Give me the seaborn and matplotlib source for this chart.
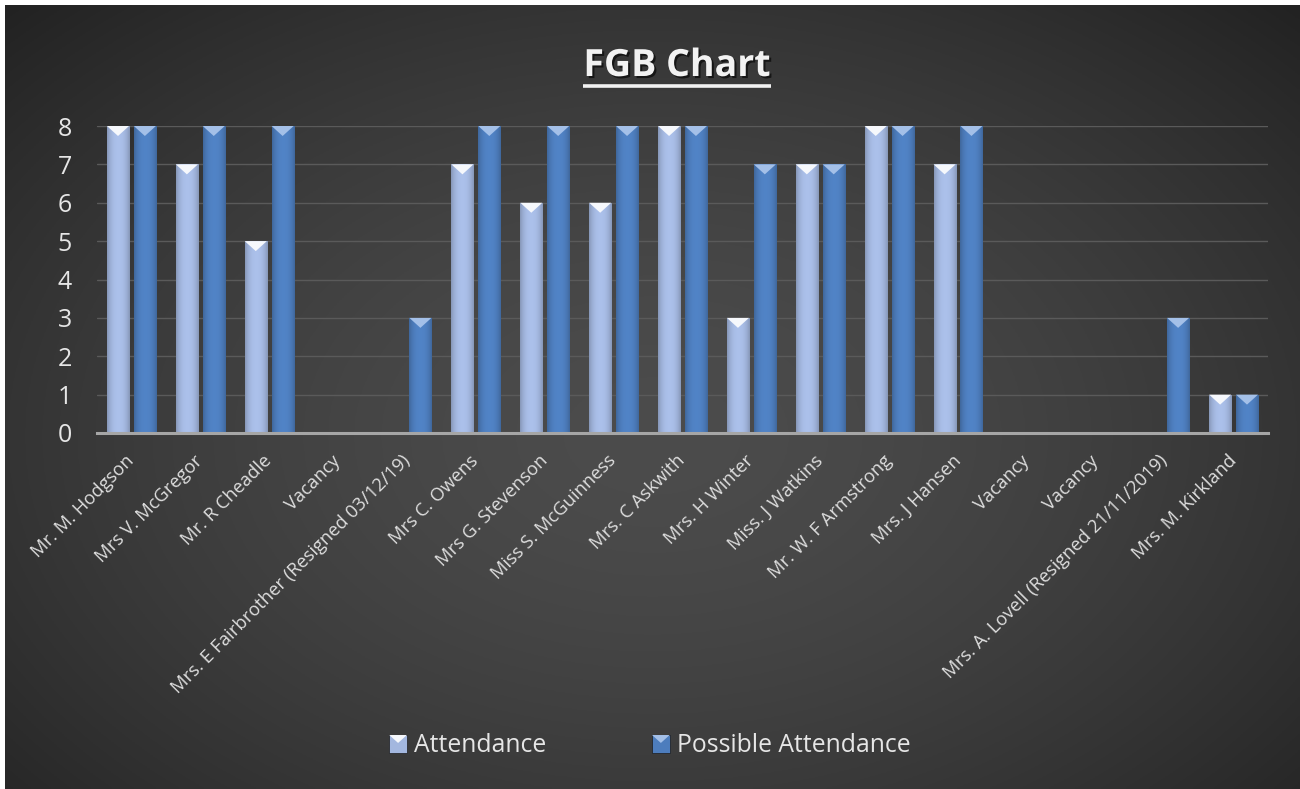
import numpy as np
import pandas as pd
import matplotlib
matplotlib.use("Agg")
import matplotlib.pyplot as plt
import matplotlib.patheffects as pe
import seaborn as sns
from matplotlib.patches import Polygon, Patch, Rectangle
from matplotlib.lines import Line2D
from matplotlib.colors import to_rgb
from matplotlib.legend_handler import HandlerBase

# ---------- Data ----------

members = [
    "Mr. M. Hodgson", "Mrs V. McGregor", "Mr. R Cheadle", "Vacancy",
    "Mrs. E Fairbrother (Resigned 03/12/19)", "Mrs C. Owens", "Mrs G. Stevenson",
    "Miss S. McGuinness", "Mrs. C Askwith", "Mrs. H Winter", "Miss. J Watkins",
    "Mr. W. F Armstrong", "Mrs. J Hansen", "Vacancy", "Vacancy",
    "Mrs. A. Lovell (Resigned 21/11/2019)", "Mrs. M. Kirkland",
]
attendance = [8, 7, 5, 0, 0, 7, 6, 6, 8, 3, 7, 8, 7, 0, 0, 0, 1]
possible = [8, 8, 8, 0, 3, 8, 8, 8, 8, 7, 7, 8, 8, 0, 0, 3, 1]
series = ["Attendance", "Possible Attendance"]
yticks = [0, 1, 2, 3, 4, 5, 6, 7, 8]

colors = {"Attendance": "#a3b7df", "Possible Attendance": "#4d7dbd"}
tips = {"Attendance": "#f6f8fc", "Possible Attendance": "#a4c0e8"}

slots = list(range(len(members)))
df = pd.DataFrame({
    "slot": slots * 2,
    "sessions": attendance + possible,
    "series": [series[0]] * len(members) + [series[1]] * len(members),
})


class BevelHandler(HandlerBase):
    # little square with the bevel tip, like the bars
    def create_artists(self, legend, orig_handle, xdescent, ydescent, width, height, fontsize, trans):
        s = min(width, height) * 1.05
        x0, y0 = -xdescent + (width - s) / 2, -ydescent + (height - s) / 2
        fc = orig_handle.get_facecolor()
        sq = Rectangle((x0, y0), s, s, facecolor=fc, edgecolor="#1c1c1c", linewidth=0.5, transform=trans)
        tri = Polygon([[x0, y0 + s], [x0 + s, y0 + s], [x0 + s / 2, y0 + s * 0.55]],
                      facecolor=tips[orig_handle.get_label()], edgecolor="none", transform=trans)
        return [sq, tri]


# ---------- Figure ----------

sns.set_style("dark")
plt.rcParams["font.family"] = ["Open Sans", "DejaVu Sans"]

W, H = 1300, 789
fig = plt.figure(figsize=(13, 7.89), dpi=100, facecolor="white")

# dark radial background panel
bg = fig.add_axes([5 / W, 0, 1 - 5 / W, 1 - 5 / H])
bg.set_axis_off()
yy, xx = np.mgrid[0:1:300j, 0:1:500j]
t = np.sqrt(((xx - 0.5) / 0.5) ** 2 + ((yy - 0.45) / 0.55) ** 2) / np.sqrt(2)
t = np.clip(t, 0, 1) ** 1.6
c0, c1 = 0x4c / 255, 0x22 / 255
img = c0 - (c0 - c1) * t
bg.imshow(np.dstack([img, img, img]), extent=[0, 1, 0, 1], aspect="auto", origin="lower")

ax = fig.add_axes([97 / W, 356 / H, 1171 / W, 307 / H])
ax.patch.set_alpha(0)

sns.barplot(data=df, x="slot", y="sessions", hue="series", order=slots,
            hue_order=series, palette=colors, width=0.78, gap=0.18,
            saturation=1, legend=False, ax=ax, zorder=3,
            edgecolor="#1c1c1c", linewidth=0.6)

# bevel shading on each bar
for bar in list(ax.patches):
    x, y0 = bar.get_x(), bar.get_y()
    w, h = bar.get_width(), bar.get_height()
    if h <= 0:
        continue
    base = np.array(to_rgb(bar.get_facecolor()))
    is_att = np.allclose(base, to_rgb(colors["Attendance"]), atol=0.02)
    u = np.linspace(-1, 1, 40)
    shade = 1.05 - 0.22 * np.abs(u) ** 2.5
    grad = np.clip(base[None, :] * shade[:, None], 0, 1)[None, :, :]
    im = ax.imshow(grad, extent=[x, x + w, y0, y0 + h], aspect="auto",
                   zorder=3.5, interpolation="bilinear")
    im.set_clip_path(bar)
    # top bevel triangle
    th = 10 / 38.4
    tip = tips["Attendance"] if is_att else tips["Possible Attendance"]
    ax.add_patch(Polygon([[x, y0 + h], [x + w, y0 + h], [x + w / 2, y0 + h - th]],
                         closed=True, facecolor=tip, edgecolor="none", zorder=4))

ax.set_xlim(-0.5, len(members) - 0.5)
ax.set_ylim(0, 8)
ax.set_yticks(yticks)
ax.set_yticklabels([str(v) for v in yticks], color="#e6e6e6", fontsize=18)
ax.set_xticks(slots)
ax.set_xticklabels(members, rotation=45, ha="right", va="center",
                   rotation_mode="anchor", color="#dedede", fontsize=13.2)
ax.tick_params(axis="y", length=0, pad=18)
ax.tick_params(axis="x", length=0, pad=18)
ax.set_xlabel("")
ax.set_ylabel("")
ax.grid(axis="y", color="#5a5a5a", linewidth=1, zorder=0)
ax.grid(axis="x", visible=False)
for s in ["top", "right", "left"]:
    ax.spines[s].set_visible(False)
ax.spines["bottom"].set_color("#a6a6a6")
ax.spines["bottom"].set_linewidth(2.2)
ax.spines["bottom"].set_zorder(5)

# title with underline
title = fig.text(677 / W, 1 - 76 / H, "FGB Chart", ha="center", va="baseline",
                 fontsize=27, fontweight="bold", color="#f2f2f2",
                 path_effects=[pe.withSimplePatchShadow(offset=(1.5, -1.5),
                                                       shadow_rgbFace="black", alpha=0.6)])
fig.canvas.draw()
bb = title.get_window_extent(fig.canvas.get_renderer()).transformed(fig.transFigure.inverted())
fig.add_artist(Line2D([bb.x0, bb.x1], [1 - 86 / H, 1 - 86 / H], transform=fig.transFigure,
                      color="#f2f2f2", linewidth=2.6, solid_capstyle="butt"))

# legend
handles = [Patch(facecolor=colors[s], label=s) for s in series]
leg = fig.legend(handles=handles, loc="center", bbox_to_anchor=(0.5, 1 - 746 / H),
                 ncol=2, frameon=False, fontsize=17.8, handlelength=0.68,
                 handleheight=0.68, handletextpad=0.3, columnspacing=4.3,
                 handler_map={Patch: BevelHandler()})
for txt in leg.get_texts():
    txt.set_color("#e6e6e6")

fig.savefig("out.png", dpi=100, facecolor=fig.get_facecolor())
